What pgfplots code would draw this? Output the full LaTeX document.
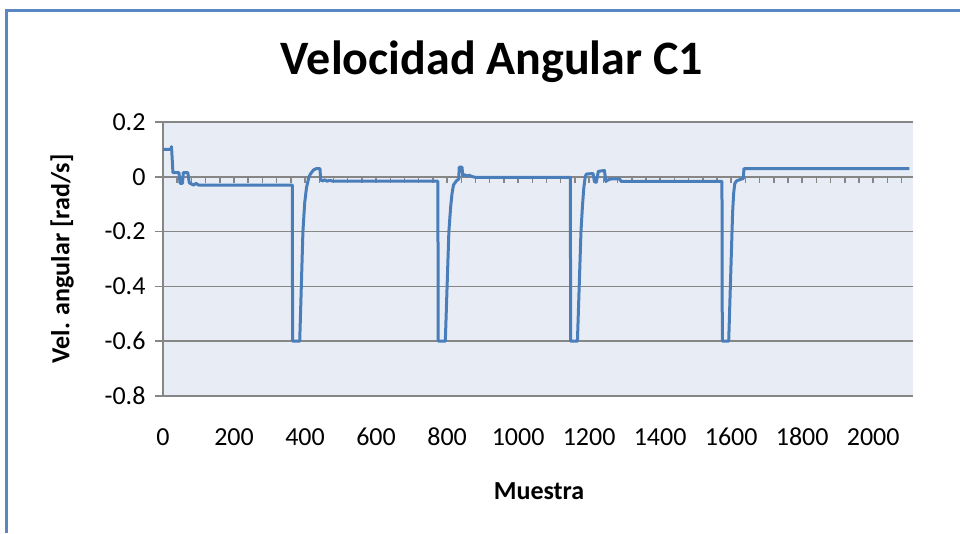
\documentclass[border=0pt]{standalone}
\usepackage{pgfplots}
\pgfplotsset{compat=1.18}
\usepackage{fontspec}
\setmainfont{Carlito}
\definecolor{linec}{RGB}{74,126,187}
\definecolor{framec}{RGB}{91,134,196}
\definecolor{gridc}{RGB}{134,134,134}
\definecolor{bgc}{RGB}{232,236,245}
\begin{document}
\begin{tikzpicture}[x=1pt,y=1pt]
\path[use as bounding box] (0,0) rectangle (960,533);
\fill[white] (0,0) rectangle (960,533);
\draw[framec, line width=3pt] (6,0) -- (6,522) -- (962,522);
\node[font=\bfseries\fontsize{48}{57}\selectfont] at (492,471) {Velocidad Angular C1};
\node[font=\bfseries\fontsize{26}{31}\selectfont, rotate=90] at (62,274) {Vel. angular [rad/s]};
\node[font=\bfseries\fontsize{26}{31}\selectfont] at (539,42) {Muestra};
\begin{axis}[
 at={(163pt,137pt)}, anchor=south west,
 scale only axis, width=750pt, height=274pt,
 xmin=0, xmax=2112, ymin=-0.8, ymax=0.2,
 axis background/.style={fill=bgc},
 axis x line=bottom, axis y line=left,
 x axis line style={draw=none, -},
 y axis line style={gridc, line width=1.5pt, -},
 xtick={0,200,...,2000},
 xticklabels={0,200,400,600,800,1000,1200,1400,1600,1800,2000},
 x tick style={draw=none},
 ytick={-0.8,-0.6,-0.4,-0.2,0,0.2},
 yticklabels={-0.8,-0.6,-0.4,-0.2,0,0.2},
 y tick style={gridc, line width=1.5pt},
 tick align=outside, major tick length=8pt,
 ymajorgrids, major grid style={gridc, line width=1.5pt},
 ticklabel style={font=\fontsize{26}{31}\selectfont},
 xticklabel style={anchor=base, yshift=-41pt},
 yticklabel style={xshift=-6pt},
]
\end{axis}
\begin{axis}[
 at={(163pt,137pt)}, anchor=south west,
 scale only axis, width=750pt, height=274pt,
 xmin=0, xmax=2112, ymin=-0.8, ymax=0.2,
 axis x line=middle, axis y line=none,
 x axis line style={gridc, line width=1.5pt, -},
 xtick={40,80,...,2080}, xticklabels={},
 x tick style={gridc, line width=1.5pt},
 tick align=outside, major tick length=6pt,
]
\addplot[linec, line width=3pt, line join=round] coordinates {
(0,0.10)(22,0.10)(24,0.11)(28,0.015)(45,0.015)(48,-0.024)(55,-0.024)(57,0.015)(70,0.015)(74,-0.022)(80,-0.026)(86,-0.03)(93,-0.024)(100,-0.03)(364,-0.03)
(365,-0.6)(385,-0.6)(394,-0.2)(399,-0.095)(404,-0.04)(411,0.0)(416,0.012)(424,0.025)(432,0.03)(442,0.03)(444,-0.012)(450,-0.015)(456,-0.011)(462,-0.016)(470,-0.013)(478,-0.016)(774,-0.016)
(775,-0.6)(795,-0.6)(805,-0.2)(810,-0.11)(814,-0.06)(818,-0.03)(826,-0.015)(833,-0.008)(834,0.035)(842,0.035)(844,0.005)(850,0.007)(856,0.003)(862,0.006)(870,0.001)(880,-0.002)(1147,-0.002)
(1148,-0.6)(1167,-0.6)(1177,-0.2)(1181,-0.11)(1185,-0.04)(1189,0.0)(1192,0.01)(1211,0.012)(1215,-0.018)(1220,-0.02)(1226,0.02)(1243,0.023)(1247,-0.017)(1255,-0.01)(1262,-0.008)(1286,-0.008)(1290,-0.017)(1574,-0.017)
(1575,-0.6)(1593,-0.6)(1600,-0.3)(1604,-0.13)(1607,-0.06)(1610,-0.025)(1615,-0.015)(1625,-0.01)(1634,-0.006)(1636,0.03)(2102,0.03)
};
\end{axis}
\end{tikzpicture}
\end{document}
